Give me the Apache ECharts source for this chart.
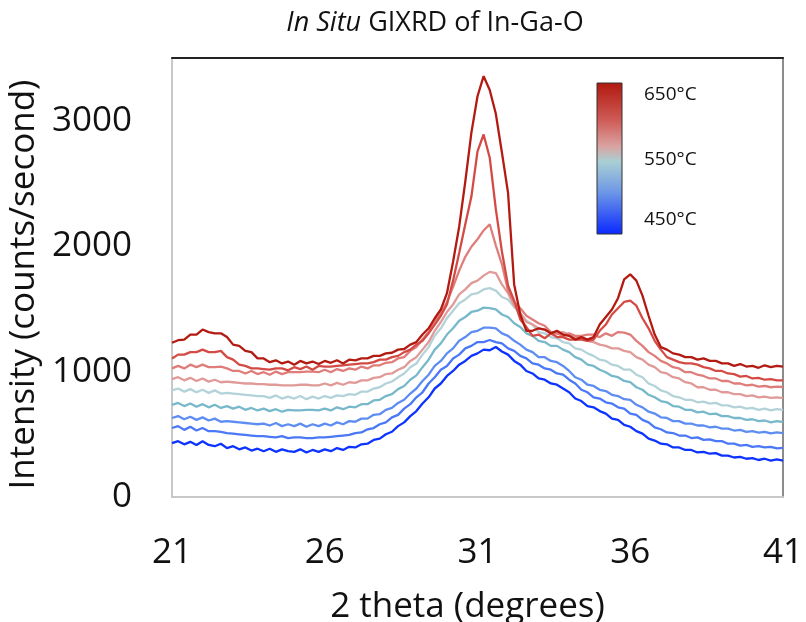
<!DOCTYPE html>
<html>
<head>
<meta charset="utf-8">
<script src="https://cdn.jsdelivr.net/npm/echarts@6/dist/echarts.min.js"></script>
<style>
html,body{margin:0;padding:0;background:#fff;}
#c{width:806px;height:622px;}
</style>
</head>
<body>
<div id="c"></div>
<script>
// 2 theta values (degrees)
var theta = [
21.0,21.2,21.4,21.6,21.8,22.0,22.2,22.4,22.6,22.8,
23.0,23.2,23.4,23.6,23.8,24.0,24.2,24.4,24.6,24.8,
25.0,25.2,25.4,25.6,25.8,26.0,26.2,26.4,26.6,26.8,
27.0,27.2,27.4,27.6,27.8,28.0,28.2,28.4,28.6,28.8,
29.0,29.2,29.4,29.6,29.8,30.0,30.2,30.4,30.6,30.8,
31.0,31.2,31.4,31.6,31.8,32.0,32.2,32.4,32.6,32.8,
33.0,33.2,33.4,33.6,33.8,34.0,34.2,34.4,34.6,34.8,
35.0,35.2,35.4,35.6,35.8,36.0,36.2,36.4,36.6,36.8,
37.0,37.2,37.4,37.6,37.8,38.0,38.2,38.4,38.6,38.8,
39.0,39.2,39.4,39.6,39.8,40.0,40.2,40.4,40.6,40.8,
41.0];

// Intensity (counts/second), one array per temperature step (450°C ... 650°C)
var s450 = [
430,445,420,440,415, 445,415,405,425,390,
405,380,395,370,385, 365,385,360,380,365,
360,380,355,375,360, 380,365,390,375,400,
395,420,425,455,465, 500,520,565,595,645,
685,745,795,865,905, 965,1005,1055,1085,1125,
1145,1175,1170,1196,1160, 1135,1085,1055,1005,985,
945,935,905,895,865, 835,785,765,725,715,
685,665,625,615,575, 560,525,505,465,450,
425,420,395,395,375, 375,355,360,345,350,
330,330,315,320,305, 310,295,305,290,300,
290];
var s475 = [
550,565,535,560,530, 550,525,525,520,510,
505,500,495,490,485, 485,480,475,485,470,
475,475,470,470,475, 475,480,485,490,495,
510,515,540,550,580, 595,635,655,705,740,
795,835,905,955,1015, 1045,1105,1135,1185,1205,
1235,1235,1252,1235,1225, 1185,1165,1125,1105,1065,
1055,1025,1015,985,975, 935,905,855,835,795,
785,755,745,715,705, 665,655,615,595,555,
540,515,510,490,490, 470,475,455,460,445,
445,425,425,410,415, 400,405,395,400,388,
391];
var s500 = [
630,645,620,640,615, 635,610,625,600,605,
600,595,590,585,580, 585,570,590,565,580,
565,585,560,580,565, 585,570,595,580,605,
600,625,625,655,660, 695,710,750,775,825,
865,925,975,1045,1085, 1145,1185,1245,1275,1315,
1325,1350,1350,1345,1305, 1285,1245,1215,1175,1155,
1115,1115,1085,1075,1045, 1005,955,935,895,885,
855,845,815,805,780, 775,735,715,680,665,
635,630,605,605,585, 585,570,570,555,560,
545,545,530,535,520, 525,513,520,507,515,
510];
var s525 = [
735,750,725,745,720, 740,715,735,710,725,
705,720,695,710,690, 705,685,700,680,695,
690,690,695,695,690, 705,690,715,700,720,
715,740,740,770,775, 805,820,860,885,935,
970,1035,1095,1175,1225, 1295,1345,1405,1435,1475,
1485,1510,1505,1495,1455, 1435,1385,1355,1305,1285,
1245,1235,1205,1205,1175, 1155,1115,1095,1055,1045,
1015,995,965,955,925, 915,875,855,815,795,
765,755,725,720,695, 695,675,680,660,665,
645,645,630,630,615, 620,605,610,595,605,
598];
var s550 = [
850,865,840,860,835, 855,830,850,825,830,
825,820,815,810,805, 805,790,810,785,800,
785,805,780,800,785, 805,790,810,805,820,
815,840,840,865,875, 905,920,955,985,1035,
1065,1135,1195,1285,1345, 1425,1485,1545,1575,1615,
1625,1655,1665,1645,1595, 1575,1515,1465,1405,1375,
1315,1305,1275,1265,1235, 1225,1185,1175,1145,1125,
1095,1085,1055,1045,1015, 1015,975,955,905,885,
850,835,805,795,775, 775,755,760,745,750,
730,730,715,720,705, 710,695,705,690,700,
694];
var s575 = [
940,955,930,950,925, 945,920,935,915,920,
915,910,905,905,900, 900,895,895,890,890,
890,895,895,890,890, 905,890,910,895,915,
910,930,930,950,955, 980,985,1015,1035,1085,
1115,1175,1235,1325,1395, 1475,1535,1615,1655,1705,
1725,1765,1795,1785,1695, 1625,1525,1465,1395,1375,
1345,1335,1305,1305,1315, 1295,1275,1265,1245,1235,
1215,1205,1185,1185,1165, 1155,1115,1095,1055,1035,
995,985,955,945,915, 905,875,875,855,855,
835,835,820,820,805, 810,795,800,790,795,
789];
var s600 = [
1025,1045,1025,1055,1035, 1055,1035,1035,1040,1025,
1005,1005,985,1005,980, 995,975,1000,980,995,
995,995,1000,1000,995, 1015,995,1020,1005,1025,
1015,1040,1025,1050,1050, 1070,1075,1105,1115,1165,
1195,1255,1315,1405,1465, 1555,1675,1805,1915,1995,
2055,2125,2175,2005,1855, 1645,1555,1505,1445,1415,
1385,1365,1315,1305,1285, 1305,1285,1285,1295,1295,
1275,1305,1285,1315,1310, 1295,1245,1205,1155,1125,
1085,1065,1035,1025,995, 995,975,965,945,945,
925,925,905,905,890, 895,880,885,875,880,
877];
var s625 = [
1105,1135,1135,1155,1155, 1175,1155,1155,1165,1115,
1095,1055,1045,1025,1025, 1020,1015,1025,1025,1010,
1035,1020,1040,1015,1045, 1040,1040,1045,1050,1055,
1060,1065,1065,1075,1095, 1095,1115,1125,1155,1175,
1215,1245,1305,1375,1445, 1535,1725,1945,2175,2395,
2755,2890,2705,2295,1955, 1685,1565,1415,1355,1285,
1295,1265,1305,1275,1275, 1255,1255,1255,1245,1255,
1325,1375,1455,1505,1555, 1565,1525,1425,1345,1245,
1175,1115,1095,1075,1065, 1065,1055,1035,1025,1005,
1005,985,980,960,965, 945,950,935,940,930,
930];
var s650 = [
1230,1250,1255,1295,1295, 1335,1315,1305,1305,1275,
1215,1205,1165,1155,1105, 1105,1075,1090,1065,1080,
1055,1085,1065,1080,1060, 1085,1070,1090,1065,1095,
1090,1105,1105,1125,1125, 1145,1150,1175,1180,1215,
1235,1295,1345,1425,1495, 1625,1875,2155,2515,2905,
3195,3355,3245,3055,2745, 2425,1695,1455,1325,1325,
1345,1335,1305,1325,1295, 1285,1255,1275,1255,1275,
1375,1435,1495,1585,1735, 1775,1725,1605,1445,1295,
1195,1175,1145,1135,1115, 1115,1095,1105,1085,1085,
1065,1065,1045,1060,1040, 1045,1030,1050,1035,1045,
1040];

var seriesNames = ['450°C','475°C','500°C','525°C','550°C','575°C','600°C','625°C','650°C'];
var seriesData = [s450, s475, s500, s525, s550, s575, s600, s625, s650];
var seriesColors = ['#0c33ff','#4a78f6','#5e8df2','#78b8cb','#b3d3d9','#e09a98','#e07d7b','#d44b45','#b31b12'];
var xTicks = [21, 26, 31, 36, 41];
var yTicks = [0, 1000, 2000, 3000];
var legendLabels = ['650°C', '550°C', '450°C'];

var FONT = '"Open Sans", "Noto Sans", sans-serif';
var chart = echarts.init(document.getElementById('c'), null, {renderer: 'canvas'});

var series = seriesData.map(function (arr, k) {
  return {
    name: seriesNames[k],
    type: 'line',
    data: arr.map(function (v, i) { return [theta[i], v]; }),
    showSymbol: false,
    lineStyle: {color: seriesColors[k], width: 2.3},
    itemStyle: {color: seriesColors[k]},
    z: 2 + k,
    animation: false
  };
});

chart.setOption({
  animation: false,
  backgroundColor: '#ffffff',
  title: {
    text: '{i|In Situ} GIXRD of In-Ga-O',
    left: 430,
    top: 5,
    textAlign: 'center',
    textStyle: {
      fontFamily: FONT, fontSize: 27, fontWeight: 'normal', color: '#111',
      rich: {i: {fontFamily: FONT, fontSize: 27, fontStyle: 'italic', color: '#111'}}
    }
  },
  grid: {left: 172, right: 23, top: 58, bottom: 125, containLabel: false, outerBoundsMode: 'none',
    show: true, borderColor: '#8c8c8c', borderWidth: 1.5, backgroundColor: 'transparent'},
  xAxis: [{
    type: 'value', min: 21, max: 41, interval: 5,
    axisLine: {show: true, lineStyle: {color: '#c8c8c8', width: 2}},
    axisTick: {show: false},
    splitLine: {show: false},
    axisLabel: {margin: 39, fontFamily: FONT, fontSize: 35, color: '#111'},
    name: '2 theta (degrees)',
    nameLocation: 'middle',
    nameGap: 93,
    nameTextStyle: {fontFamily: FONT, fontSize: 35, color: '#111', padding: [0, 20, 0, 0]}
  }, {
    type: 'value', min: 21, max: 41, position: 'top',
    axisLine: {show: true, onZero: false, lineStyle: {color: '#222', width: 2}},
    axisTick: {show: false}, axisLabel: {show: false}, splitLine: {show: false}
  }],
  yAxis: [{
    type: 'value', min: 0, max: 3500, interval: 1000,
    axisLine: {show: true, lineStyle: {color: '#c8c8c8', width: 2}},
    axisTick: {show: false},
    splitLine: {show: false},
    axisLabel: {
      margin: 40, fontFamily: FONT, fontSize: 35, color: '#111', padding: [24, 0, 0, 0],
      formatter: function (v) { return yTicks.indexOf(v) >= 0 ? String(v) : ''; }
    },
    name: 'Intensity (counts/second)',
    nameLocation: 'middle',
    nameGap: 130,
    nameTextStyle: {fontFamily: FONT, fontSize: 35, color: '#111', padding: [0, 14, 0, 0]}
  }, {
    type: 'value', min: 0, max: 3500, position: 'right',
    axisLine: {show: true, lineStyle: {color: '#8c8c8c', width: 2}},
    axisTick: {show: false}, axisLabel: {show: false}, splitLine: {show: false}
  }],
  series: series,
  graphic: [
    {
      type: 'rect',
      shape: {x: 597, y: 83, width: 25, height: 151},
      style: {
        fill: new echarts.graphic.LinearGradient(0, 0, 0, 1, [
          {offset: 0, color: '#b0180e'},
          {offset: 0.25, color: '#cf5c57'},
          {offset: 0.42, color: '#d9a3a1'},
          {offset: 0.52, color: '#a9cfd3'},
          {offset: 0.72, color: '#6e98e6'},
          {offset: 1, color: '#0a28ff'}
        ]),
        stroke: '#333', lineWidth: 1
      },
      z: 100
    },
    {type: 'text', left: 644, top: 85, style: {text: legendLabels[0], font: '19px ' + FONT, fill: '#111'}, z: 100},
    {type: 'text', left: 644, top: 150, style: {text: legendLabels[1], font: '19px ' + FONT, fill: '#111'}, z: 100},
    {type: 'text', left: 644, top: 210, style: {text: legendLabels[2], font: '19px ' + FONT, fill: '#111'}, z: 100}
  ]
});
</script>
</body>
</html>
